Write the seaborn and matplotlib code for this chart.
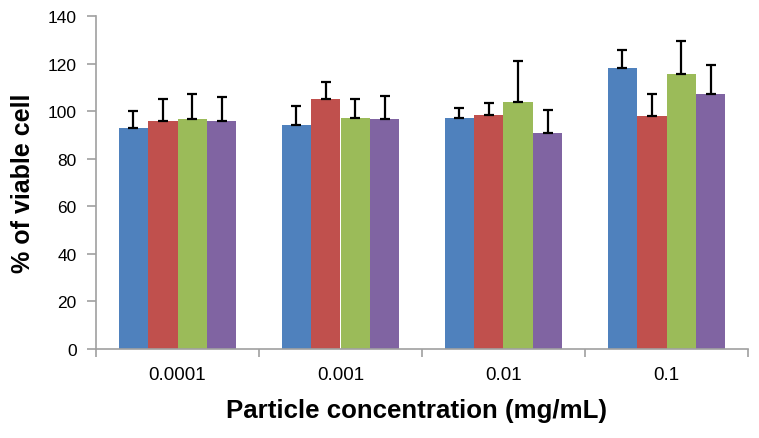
import matplotlib
matplotlib.use("Agg")
import matplotlib.pyplot as plt
import seaborn as sns
import pandas as pd
import numpy as np

categories = ["0.0001", "0.001", "0.01", "0.1"]
series = ["S1", "S2", "S3", "S4"]
s1 = [93, 94, 97, 118]
s2 = [96, 105, 98.5, 98]
s3 = [96.5, 97, 104, 115.5]
s4 = [96, 96.5, 91, 107]
e1 = [7, 8.3, 4.3, 7.5]
e2 = [9, 7.3, 5, 9]
e3 = [10.5, 8.1, 17, 14]
e4 = [9.8, 10, 9.3, 12.6]
colors = ["#4F81BD", "#C0504D", "#9BBB59", "#8064A2"]

vals = [s1, s2, s3, s4]
errs = [e1, e2, e3, e4]
rows = []
for s, v in zip(series, vals):
    for c, y in zip(categories, v):
        rows.append({"cat": c, "series": s, "val": y})
df = pd.DataFrame(rows)

sns.set_theme(style="white")
plt.rcParams['font.family'] = ['Liberation Sans', 'DejaVu Sans']

fig = plt.figure(figsize=(7.59, 4.39), dpi=100)
ax = fig.add_axes([96/759, 1 - 350/439, (748 - 96)/759, (350 - 17)/439])

sns.barplot(data=df, x="cat", y="val", hue="series", order=categories,
            hue_order=series, palette=colors, width=0.72, errorbar=None,
            saturation=1, ax=ax, legend=False, linewidth=0)

# error bars from bar patches
bars = [p for p in ax.patches if p.get_width() > 0]
for i, s in enumerate(series):
    for j, c in enumerate(categories):
        p = bars[i * len(categories) + j]
        xc = p.get_x() + p.get_width() / 2
        ax.errorbar(xc, vals[i][j], yerr=[[0], [errs[i][j]]], fmt="none",
                    ecolor="black", elinewidth=1.6, capsize=3.6, capthick=1.6,
                    zorder=5)

ax.set_ylim(0, 140)
ax.set_xlim(-0.5, 3.5)
ax.set_yticks(np.arange(0, 141, 20))
ax.set_ylabel("% of viable cell", fontsize=18, fontweight="bold", labelpad=9,
              color="black")
ax.set_xlabel("Particle concentration (mg/mL)", fontsize=18.6, fontweight="bold",
              color="black")
ax.xaxis.set_label_coords(0.492, -0.148)
ax.xaxis.label.set_va("top")

for side in ["top", "right"]:
    ax.spines[side].set_visible(False)
for side in ["left", "bottom"]:
    ax.spines[side].set_color("#A0A0A0")
    ax.spines[side].set_linewidth(1.2)

ax.tick_params(axis="y", which="major", direction="out", length=6.5, color="#A0A0A0",
               width=1.2, labelsize=12.5, left=True, pad=7.5)
ax.tick_params(axis="x", which="major", length=0, labelsize=13.5, pad=12.5)
ax.set_xticks(np.arange(-0.5, 3.6, 1.0), minor=True)
ax.tick_params(axis="x", which="minor", direction="out", length=5.5, color="#A0A0A0",
               width=1.2, bottom=True)
for lbl in ax.get_xticklabels() + ax.get_yticklabels():
    lbl.set_color("black")

fig.savefig("out.png", dpi=100)
